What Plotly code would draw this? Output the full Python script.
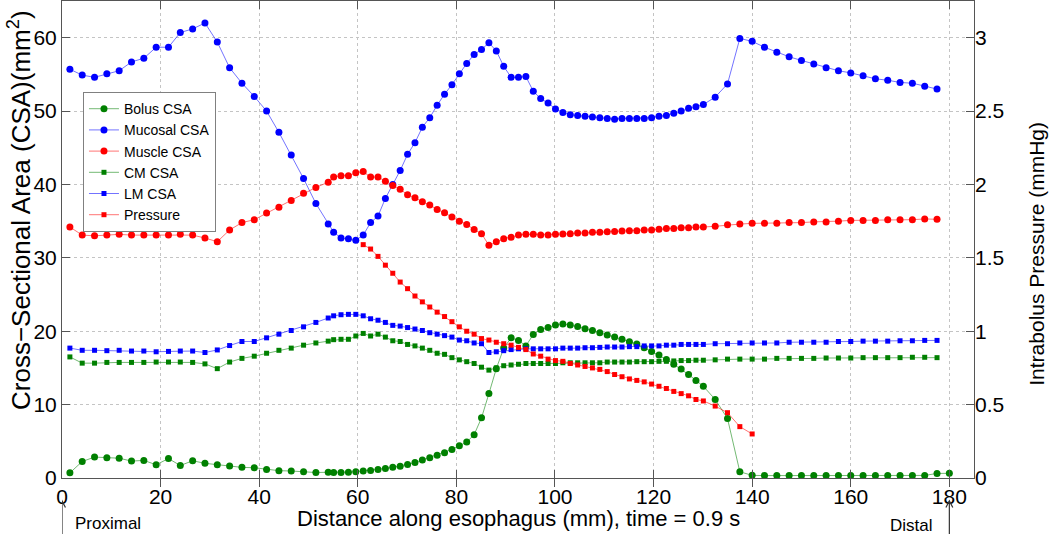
import plotly.graph_objects as go

# ---------------- data ----------------
distance_mm = [1.6, 4.1, 6.6, 9.1, 11.6, 14.1, 16.6, 19.1, 21.6, 24.0, 26.5, 29.0, 31.5, 34.0, 36.5,
               39.0, 41.5, 44.0, 46.5, 49.0, 51.5, 54.0,
               55.1,
               56.6, 58.1, 59.6, 61.1, 62.6, 64.1, 65.6, 67.1, 68.6, 70.1,
               71.6, 73.1, 74.6, 76.1, 77.6, 79.1, 80.6, 82.1, 83.6, 85.1,
               86.6, 88.1, 89.6, 91.1, 92.6, 94.1, 95.6, 97.1, 98.6, 100.1,
               101.6, 103.1, 104.6, 106.1, 107.6, 109.1, 110.6, 112.1, 113.6, 115.1,
               116.6, 118.1, 119.6, 121.1, 122.6, 124.1, 125.6, 127.1, 128.6, 130.1,
               132.5, 135.0, 137.5, 140.0, 142.5, 145.0, 147.5, 150.0, 152.5, 155.0,
               157.5, 160.0, 162.5, 165.0, 167.5, 170.0, 172.5, 175.0, 177.5]

bolus_distance_mm = distance_mm + [180.0]
pressure_distance_mm = distance_mm[26:77]

bolus_csa = [0.7, 2.25, 2.85, 2.75, 2.7, 2.3, 2.4, 1.8, 2.65, 1.7, 2.35, 2.0, 1.8, 1.65, 1.45,
             1.4, 1.15, 1.0, 0.95, 0.85, 0.75, 0.78,
             0.76,
             0.75, 0.8, 0.86, 0.95, 1.02, 1.15, 1.3, 1.45, 1.6, 1.85,
             2.1, 2.45, 2.75, 3.1, 3.45, 3.9, 4.4, 4.9, 5.9, 8.2,
             11.5, 14.9, 17.7, 19.1, 18.75, 18.0, 19.55, 20.25, 20.5, 20.85,
             21.0, 20.85, 20.65, 20.35, 20.1, 19.8, 19.5, 19.2, 18.9, 18.55,
             18.25, 17.75, 17.25, 16.75, 16.15, 15.5, 14.85, 14.1, 13.3, 12.5,
             10.7, 8.1, 0.85, 0.36, 0.33, 0.33, 0.33, 0.33, 0.33, 0.33,
             0.33, 0.33, 0.33, 0.33, 0.33, 0.33, 0.33, 0.35, 0.62,
             0.64]

mucosal_csa = [55.7, 54.9, 54.6, 55.1, 55.5, 56.7, 57.2, 58.7, 58.7, 60.7, 61.2, 62.0, 59.4, 55.9, 53.8,
               52.0, 50.0, 47.1, 44.0, 40.8, 37.4, 34.6,
               33.5,
               32.7, 32.6, 32.4, 33.1, 34.8, 35.7, 38.1, 40.0, 41.9, 44.1,
               45.7, 47.8, 49.1, 50.8, 52.3, 53.6, 55.1, 56.5, 57.7, 58.4,
               59.3, 58.2, 56.1, 54.6, 54.6, 54.7, 52.7, 51.7, 51.1, 50.3,
               49.8, 49.5, 49.4, 49.3, 49.2, 49.1, 49.0, 48.9, 49.0, 49.0,
               49.0, 49.0, 49.1, 49.3, 49.4, 49.7, 50.0, 50.4, 50.6, 50.9,
               51.9, 53.7, 59.9, 59.5, 58.7, 58.0, 57.4, 56.9, 56.4, 55.9,
               55.5, 55.2, 54.8, 54.4, 54.2, 53.9, 53.8, 53.4, 53.0]

muscle_csa = [34.2, 33.1, 33.0, 33.1, 33.2, 33.1, 33.1, 33.1, 33.1, 33.2, 33.1, 32.7, 32.2, 33.8, 34.8,
              35.2, 36.1, 36.9, 37.8, 38.8, 39.6, 40.3,
              41.0,
              41.2, 41.2, 41.6, 41.75, 41.0, 41.0, 40.45, 39.85, 39.35, 38.6,
              38.2, 37.65, 37.2, 36.6, 36.15, 35.55, 35.0, 34.55, 33.85, 33.3,
              31.7, 32.2, 32.6, 32.8, 33.1, 33.2, 33.2, 33.1, 33.1, 33.2,
              33.25, 33.3, 33.4, 33.4, 33.5, 33.5, 33.55, 33.6, 33.65, 33.7,
              33.7, 33.8, 33.8, 33.9, 34.0, 34.0, 34.1, 34.1, 34.2, 34.2,
              34.3, 34.5, 34.6, 34.7, 34.7, 34.7, 34.8, 34.8, 34.9, 34.9,
              35.0, 35.1, 35.1, 35.1, 35.2, 35.2, 35.2, 35.3, 35.25]

cm_csa = [16.5, 15.65, 15.65, 15.75, 15.75, 15.75, 15.75, 15.8, 15.8, 15.8, 15.75, 15.55, 14.9, 15.8, 16.3,
          16.6, 17.0, 17.4, 17.7, 18.1, 18.4, 18.65,
          18.85,
          18.9, 18.9, 19.35, 19.7, 19.35, 19.6, 19.2, 18.7, 18.6, 18.2,
          18.0, 17.7, 17.4, 17.0, 16.85, 16.4, 16.1, 15.85, 15.6, 15.1,
          14.7, 15.0, 15.3, 15.4, 15.5, 15.6, 15.6, 15.6, 15.6, 15.6,
          15.7, 15.7, 15.7, 15.7, 15.7, 15.7, 15.8, 15.8, 15.8, 15.8,
          15.85, 15.85, 15.85, 15.9, 15.9, 15.95, 16.0, 16.0, 16.05, 16.05,
          16.1, 16.2, 16.2, 16.2, 16.2, 16.3, 16.3, 16.3, 16.3, 16.35,
          16.35, 16.35, 16.4, 16.4, 16.4, 16.4, 16.45, 16.45, 16.4]

lm_csa = [17.7, 17.4, 17.4, 17.35, 17.4, 17.3, 17.3, 17.2, 17.25, 17.3, 17.3, 17.1, 17.45, 18.05, 18.6,
          18.6, 19.1, 19.6, 20.1, 20.6, 21.2, 21.8,
          22.1,
          22.25, 22.3, 22.3, 22.1, 21.7, 21.5, 21.2, 20.8, 20.7, 20.5,
          20.3, 20.1, 19.8, 19.6, 19.4, 19.2, 18.8, 18.7, 18.4, 18.3,
          17.1, 17.2, 17.35, 17.5, 17.6, 17.6, 17.6, 17.6, 17.6, 17.6,
          17.7, 17.7, 17.7, 17.75, 17.75, 17.8, 17.85, 17.85, 17.85, 17.9,
          17.9, 18.0, 18.0, 18.0, 18.1, 18.1, 18.2, 18.2, 18.2, 18.2,
          18.3, 18.3, 18.4, 18.4, 18.4, 18.4, 18.5, 18.5, 18.5, 18.5,
          18.6, 18.6, 18.65, 18.65, 18.65, 18.7, 18.7, 18.75, 18.75]

pressure_mmhg = [1.59, 1.56, 1.51, 1.45, 1.395, 1.335, 1.29, 1.24, 1.20, 1.165,
                 1.13, 1.10, 1.065, 1.03, 1.00, 0.98, 0.95, 0.94, 0.925, 0.915,
                 0.905, 0.89, 0.875, 0.845, 0.83, 0.81, 0.80, 0.795, 0.78, 0.77,
                 0.76, 0.75, 0.74, 0.725, 0.705, 0.69, 0.675, 0.665, 0.655, 0.64,
                 0.625, 0.61, 0.59, 0.575, 0.56, 0.535, 0.525,
                 0.49, 0.445, 0.35, 0.30]

x_ticks = [0, 20, 40, 60, 80, 100, 120, 140, 160, 180]
y_ticks = [0, 10, 20, 30, 40, 50, 60]
y2_ticks = [0, 0.5, 1, 1.5, 2, 2.5, 3]
end_marks_mm = [0, 180]

# ---------------- styling ----------------
FONT = "Liberation Sans, Arial, Helvetica, sans-serif"
GREEN, BLUE, RED = "#008000", "#0000ff", "#ff0000"
LGREEN, LBLUE, LRED = "rgba(0,128,0,0.55)", "rgba(0,0,255,0.55)", "rgba(255,0,0,0.55)"
AXC = "#555555"

fig = go.Figure()

def add(x, y, name, col, lcol, symbol, size, yaxis="y"):
    fig.add_trace(go.Scatter(
        x=x, y=y, name=name, mode="lines+markers", yaxis=yaxis,
        line=dict(color=lcol, width=1),
        marker=dict(color=col, symbol=symbol, size=size, line=dict(width=0)),
    ))

add(bolus_distance_mm, bolus_csa, "Bolus CSA", GREEN, LGREEN, "circle", 7)
add(distance_mm, mucosal_csa, "Mucosal CSA", BLUE, LBLUE, "circle", 7)
add(distance_mm, muscle_csa, "Muscle CSA", RED, LRED, "circle", 7)
add(distance_mm, cm_csa, "CM CSA", GREEN, LGREEN, "square", 5)
add(distance_mm, lm_csa, "LM CSA", BLUE, LBLUE, "square", 5)
add(pressure_distance_mm, pressure_mmhg, "Pressure", RED, LRED, "square", 5, yaxis="y2")

fig.update_layout(
    width=1050, height=534,
    margin=dict(l=62, r=76, t=1, b=56, autoexpand=False),
    paper_bgcolor="white", plot_bgcolor="white",
    font=dict(family=FONT, color="#000000"),
    showlegend=True,
    legend=dict(x=0.023, y=0.809, xanchor="left", yanchor="top",
                bgcolor="white", bordercolor="#808080", borderwidth=1,
                font=dict(size=14, family=FONT), tracegroupgap=0),
    xaxis=dict(range=[0, 185], tickvals=x_ticks, ticks="inside", ticklen=8, tickcolor=AXC,
               showline=True, linecolor=AXC, linewidth=1, mirror="allticks",
               showgrid=True, gridcolor="#c4c4c4", griddash="dot", gridwidth=1,
               zeroline=False, tickfont=dict(size=21), automargin=False),
    yaxis=dict(range=[0, 65], tickvals=y_ticks, ticks="inside", ticklen=8, tickcolor=AXC,
               showline=True, linecolor=AXC, linewidth=1, mirror=True,
               showgrid=True, gridcolor="#c4c4c4", griddash="dot", gridwidth=1,
               zeroline=False, tickfont=dict(size=21), automargin=False),
    yaxis2=dict(range=[0, 3.25], tickvals=y2_ticks, overlaying="y", side="right",
                ticks="inside", ticklen=8, tickcolor=AXC, showline=False,
                showgrid=False, zeroline=False, tickfont=dict(size=21), automargin=False),
)

# axis titles
fig.add_annotation(text="Distance along esophagus (mm), time = 0.9 s", xref="paper", yref="paper",
                   x=0.5, y=-0.085, xanchor="center", yanchor="middle", showarrow=False,
                   font=dict(size=22, family=FONT, color="#000"))
fig.add_annotation(text="Cross\u2212Sectional Area (CSA)(mm<sup>2</sup>)", xref="paper", yref="paper",
                   x=-0.046, y=0.562, xanchor="center", yanchor="middle", textangle=-90,
                   showarrow=False, font=dict(size=26, family=FONT, color="#000"))
fig.add_annotation(text="Intrabolus Pressure (mmHg)", xref="paper", yref="paper",
                   x=1.069, y=0.470, xanchor="center", yanchor="middle", textangle=-90,
                   showarrow=False, font=dict(size=21, family=FONT, color="#000"))

# Proximal / Distal arrows below the axis (drawn as shapes)
for xv in end_marks_mm:
    fig.add_shape(type="line", xref="x", yref="paper", x0=xv, x1=xv, y0=-0.12, y1=-0.048,
                  line=dict(color="#333333", width=1.2))
    fig.add_shape(type="path", xref="x", yref="paper",
                  path=f"M {xv-0.7},-0.062 L {xv},-0.048 L {xv+0.7},-0.062",
                  line=dict(color="#333333", width=1.2))
fig.add_annotation(x=2.2, xref="x", y=-0.095, yref="paper", text="Proximal",
                   showarrow=False, xanchor="left", yanchor="middle",
                   font=dict(size=17, family=FONT, color="#000"))
fig.add_annotation(x=177.0, xref="x", y=-0.099, yref="paper", text="Distal",
                   showarrow=False, xanchor="right", yanchor="middle",
                   font=dict(size=17, family=FONT, color="#000"))

fig.write_html("out.html", config={"displayModeBar": False},
               post_script="document.body.style.margin='0';document.body.style.overflow='hidden';")
